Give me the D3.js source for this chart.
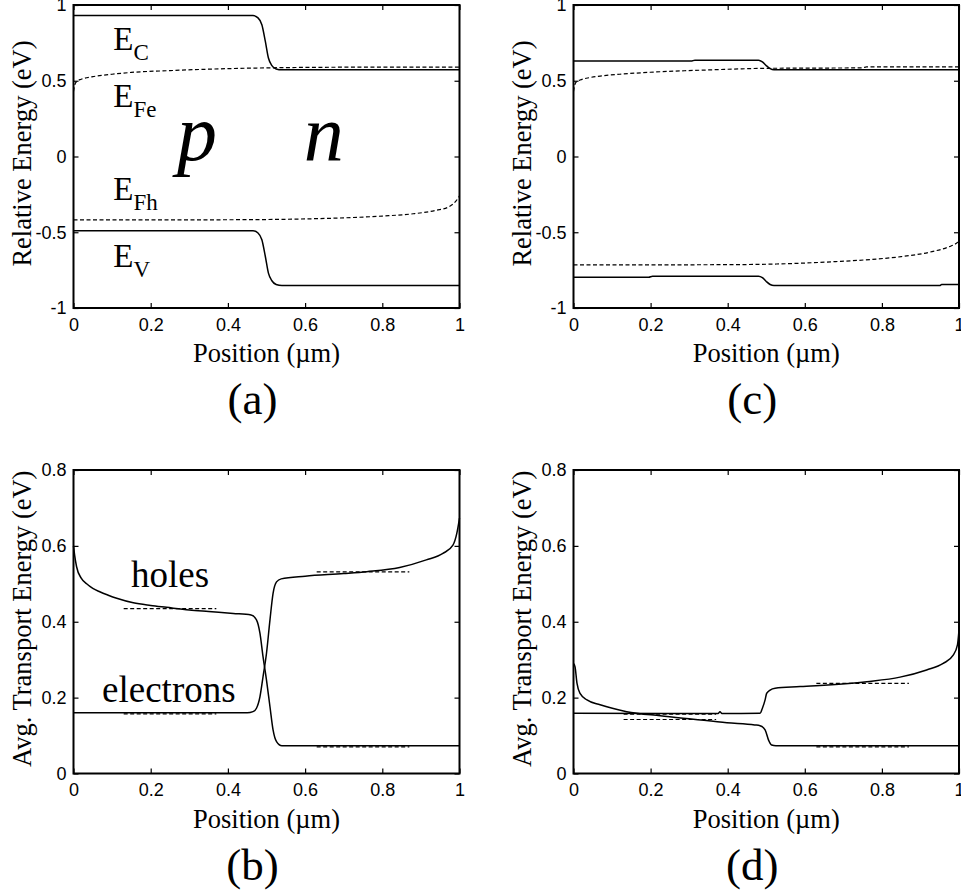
<!DOCTYPE html>
<html>
<head>
<meta charset="utf-8">
<script src="https://cdnjs.cloudflare.com/ajax/libs/d3/7.8.5/d3.min.js"></script>
<style>
    body { margin: 0; background: #fff; }
    .tick text { font-family: "Liberation Sans", Arial, sans-serif; font-size: 18px; fill: #000; }
    .tick line { stroke: #000; stroke-width: 1.2px; }
    .serif { font-family: "Liberation Serif", "Times New Roman", serif; fill: #000; }
</style>
</head>
<body>
<div id="chart"></div>
<script>
// tick values
var posTicks = [0, 0.2, 0.4, 0.6, 0.8, 1];
var energyTicks = [-1, -0.5, 0, 0.5, 1];
var transportTicks = [0, 0.2, 0.4, 0.6, 0.8];

// (a) band diagram, equilibrium-like case
var aEcX = [0, 0.465, 0.478, 0.488, 0.497, 0.505, 0.514, 0.525, 0.54, 1];
var aEcY = [0.93, 0.93, 0.915, 0.87, 0.76, 0.65, 0.60, 0.578, 0.572, 0.572];
var aEvX = [0, 0.465, 0.478, 0.488, 0.497, 0.505, 0.514, 0.525, 0.54, 1];
var aEvY = [-0.49, -0.49, -0.505, -0.55, -0.66, -0.77, -0.82, -0.845, -0.852, -0.852];
var aEfeX = [0, 0.003, 0.008, 0.02, 0.05, 0.1, 0.15, 0.25, 0.4, 0.5, 0.6, 0.8, 1];
var aEfeY = [0.43, 0.47, 0.495, 0.51, 0.527, 0.543, 0.555, 0.567, 0.58, 0.585, 0.588, 0.59, 0.59];
var aEfhX = [0, 0.3, 0.5, 0.6, 0.7, 0.8, 0.88, 0.94, 0.97, 0.985, 0.995, 1];
var aEfhY = [-0.418, -0.418, -0.416, -0.412, -0.405, -0.393, -0.378, -0.355, -0.335, -0.31, -0.28, -0.26];

// (c) band diagram, second case
var cEcX = [0, 0.305, 0.315, 0.48, 0.49, 0.5, 0.51, 0.52, 1];
var cEcY = [0.63, 0.63, 0.636, 0.636, 0.625, 0.6, 0.58, 0.572, 0.572];
var cEvX = [0, 0.195, 0.205, 0.48, 0.49, 0.5, 0.51, 0.52, 0.95, 0.955, 1];
var cEvY = [-0.797, -0.797, -0.79, -0.79, -0.80, -0.825, -0.845, -0.852, -0.852, -0.845, -0.845];
var cEfeX = [0, 0.003, 0.008, 0.017, 0.04, 0.069, 0.12, 0.199, 0.346, 0.5, 0.674, 0.75, 0.76, 1];
var cEfeY = [0.43, 0.47, 0.495, 0.505, 0.52, 0.531, 0.543, 0.556, 0.571, 0.582, 0.584, 0.585, 0.592, 0.592];
var cEfhX = [0, 0.4, 0.55, 0.67, 0.77, 0.85, 0.93, 0.975, 0.995, 1];
var cEfhY = [-0.716, -0.714, -0.708, -0.695, -0.68, -0.661, -0.628, -0.595, -0.57, -0.56];

// (b) average transport energy, first case
var bHoleX = [0, 0.003, 0.008, 0.02, 0.034, 0.05, 0.068, 0.09, 0.112, 0.155, 0.2, 0.241, 0.3, 0.35, 0.414, 0.46, 0.474, 0.483, 0.491, 0.5, 0.509, 0.517, 0.526, 0.54, 1];
var bHoleY = [0.6, 0.575, 0.545, 0.515, 0.5, 0.488, 0.479, 0.47, 0.462, 0.45, 0.443, 0.438, 0.431, 0.427, 0.422, 0.418, 0.405, 0.37, 0.308, 0.246, 0.176, 0.115, 0.084, 0.073, 0.073];
var bElecX = [0, 0.45, 0.465, 0.474, 0.483, 0.491, 0.5, 0.509, 0.517, 0.526, 0.538, 0.6, 0.7, 0.76, 0.845, 0.914, 0.957, 0.983, 0.993, 1];
var bElecY = [0.16, 0.16, 0.163, 0.172, 0.202, 0.255, 0.317, 0.405, 0.475, 0.505, 0.513, 0.52, 0.527, 0.532, 0.543, 0.563, 0.58, 0.602, 0.633, 0.673];
var bRefX0 = [0.13, 0.13, 0.63, 0.63];
var bRefX1 = [0.37, 0.37, 0.87, 0.87];
var bRefY = [0.437, 0.16, 0.534, 0.073];

// (d) average transport energy, second case
var dHoleX = [0, 0.004, 0.009, 0.017, 0.035, 0.069, 0.138, 0.225, 0.311, 0.398, 0.47, 0.484, 0.497, 0.506, 0.514, 0.525, 1];
var dHoleY = [0.29, 0.281, 0.238, 0.211, 0.194, 0.181, 0.163, 0.152, 0.143, 0.134, 0.128, 0.126, 0.115, 0.088, 0.075, 0.073, 0.073];
var dElecX = [0, 0.375, 0.38, 0.385, 0.484, 0.49, 0.497, 0.501, 0.51, 0.523, 0.588, 0.761, 0.847, 0.916, 0.959, 0.985, 0.996, 1];
var dElecY = [0.159, 0.158, 0.163, 0.158, 0.159, 0.172, 0.194, 0.211, 0.22, 0.225, 0.229, 0.242, 0.254, 0.273, 0.29, 0.312, 0.339, 0.378];
var dRefX0 = [0.13, 0.13, 0.63, 0.63];
var dRefX1 = [0.37, 0.37, 0.87, 0.87];
var dRefY = [0.145, 0.159, 0.24, 0.073];

function toPoints(xs, ys) {
    return xs.map(function(d, i) { return { x: d, y: ys[i] }; });
}

var svg = d3.select("#chart")
    .append("svg")
    .attr("width", 961)
    .attr("height", 894);

function drawPanel(box, yDomain, yTicks, yTitle, letter, solids, dashes, segs) {
    var x = d3.scaleLinear().domain([0, 1]).range([box.left, box.right]);
    var y = d3.scaleLinear().domain(yDomain).range([box.bottom, box.top]);
    var fmt = function(d) { return String(d); };

    var g = svg.append("g");

    g.append("g")
        .attr("transform", "translate(0," + box.bottom + ")")
        .call(d3.axisBottom(x).tickValues(posTicks).tickFormat(fmt).tickSizeInner(-5).tickSizeOuter(0).tickPadding(10));
    g.append("g")
        .attr("transform", "translate(0," + box.top + ")")
        .call(d3.axisTop(x).tickValues(posTicks).tickFormat("").tickSizeInner(-5).tickSizeOuter(0));
    g.append("g")
        .attr("transform", "translate(" + box.left + ",0)")
        .call(d3.axisLeft(y).tickValues(yTicks).tickFormat(fmt).tickSizeInner(-5).tickSizeOuter(0).tickPadding(7));
    g.append("g")
        .attr("transform", "translate(" + box.right + ",0)")
        .call(d3.axisRight(y).tickValues(yTicks).tickFormat("").tickSizeInner(-5).tickSizeOuter(0));
    g.selectAll(".domain").remove();

    var line = d3.line()
        .x(function(d) { return x(d.x); })
        .y(function(d) { return y(d.y); })
        .curve(d3.curveMonotoneX);

    g.selectAll("path.dashed")
        .data(dashes)
        .enter()
        .append("path")
        .attr("class", "dashed")
        .attr("d", line)
        .attr("fill", "none")
        .attr("stroke", "#000")
        .attr("stroke-width", 1.2)
        .attr("stroke-dasharray", "4,2.5");

    if (segs) {
        g.selectAll("line.ref")
            .data(segs.y)
            .enter()
            .append("line")
            .attr("class", "ref")
            .attr("x1", function(d, i) { return x(segs.x0[i]); })
            .attr("x2", function(d, i) { return x(segs.x1[i]); })
            .attr("y1", function(d) { return y(d) + 1; })
            .attr("y2", function(d) { return y(d) + 1; })
            .attr("stroke", "#000")
            .attr("stroke-width", 1.2)
            .attr("stroke-dasharray", "4,2.5");
    }

    g.selectAll("path.solid")
        .data(solids)
        .enter()
        .append("path")
        .attr("class", "solid")
        .attr("d", line)
        .attr("fill", "none")
        .attr("stroke", "#000")
        .attr("stroke-width", 1.5);

    g.append("rect")
        .attr("x", box.left)
        .attr("y", box.top)
        .attr("width", box.right - box.left)
        .attr("height", box.bottom - box.top)
        .attr("fill", "none")
        .attr("stroke", "#000")
        .attr("stroke-width", 2);

    var cx = (box.left + box.right) / 2;

    g.append("text")
        .attr("class", "serif")
        .attr("x", cx)
        .attr("y", box.bottom + 54)
        .attr("text-anchor", "middle")
        .style("font-size", "26.5px")
        .text("Position (\u00b5m)");

    g.append("text")
        .attr("class", "serif")
        .attr("transform", "translate(" + (box.left - 42.5) + "," + ((box.top + box.bottom) / 2 - 3) + ") rotate(-90)")
        .attr("text-anchor", "middle")
        .style("font-size", "26.5px")
        .text(yTitle);

    g.append("text")
        .attr("class", "serif")
        .attr("x", cx - 14)
        .attr("y", box.bottom + 106)
        .attr("text-anchor", "middle")
        .style("font-size", "45px")
        .text("(" + letter + ")");

    return { g: g, x: x, y: y };
}

var pa = drawPanel({ left: 73.5, right: 459.5, top: 5, bottom: 308 }, [-1, 1], energyTicks,
    "Relative Energy (eV)", "a",
    [toPoints(aEcX, aEcY), toPoints(aEvX, aEvY)],
    [toPoints(aEfeX, aEfeY), toPoints(aEfhX, aEfhY)]);

drawPanel({ left: 573.5, right: 959, top: 5, bottom: 308 }, [-1, 1], energyTicks,
    "Relative Energy (eV)", "c",
    [toPoints(cEcX, cEcY), toPoints(cEvX, cEvY)],
    [toPoints(cEfeX, cEfeY), toPoints(cEfhX, cEfhY)]);

var pb = drawPanel({ left: 73.5, right: 459.5, top: 470, bottom: 773.5 }, [0, 0.8], transportTicks,
    "Avg. Transport Energy (eV)", "b",
    [toPoints(bHoleX, bHoleY), toPoints(bElecX, bElecY)],
    [], { x0: bRefX0, x1: bRefX1, y: bRefY });

drawPanel({ left: 573.5, right: 959, top: 470, bottom: 773.5 }, [0, 0.8], transportTicks,
    "Avg. Transport Energy (eV)", "d",
    [toPoints(dHoleX, dHoleY), toPoints(dElecX, dElecY)],
    [], { x0: dRefX0, x1: dRefX1, y: dRefY });

// band labels in (a)
var bandNames = ["C", "Fe", "Fh", "V"];
var bandLabelY = [0.703, 0.329, -0.287, -0.727];

bandNames.forEach(function(name, i) {
    var t = pa.g.append("text")
        .attr("class", "serif")
        .attr("x", pa.x(0.103))
        .attr("y", pa.y(bandLabelY[i]))
        .style("font-size", "33px");
    t.append("tspan").text("E");
    t.append("tspan")
        .attr("dy", 10)
        .style("font-size", "23px")
        .text(name);
});

pa.g.append("text")
    .attr("class", "serif")
    .attr("x", pa.x(0.32))
    .attr("y", pa.y(-0.023))
    .attr("text-anchor", "middle")
    .style("font-size", "80px")
    .style("font-style", "italic")
    .text("p");

pa.g.append("text")
    .attr("class", "serif")
    .attr("x", pa.x(0.648))
    .attr("y", pa.y(-0.023))
    .attr("text-anchor", "middle")
    .style("font-size", "80px")
    .style("font-style", "italic")
    .text("n");

// carrier labels in (b)
pb.g.append("text")
    .attr("class", "serif")
    .attr("x", pb.x(0.149))
    .attr("y", pb.y(0.4916))
    .style("font-size", "37px")
    .text("holes");

pb.g.append("text")
    .attr("class", "serif")
    .attr("x", pb.x(0.074))
    .attr("y", pb.y(0.189))
    .style("font-size", "37px")
    .text("electrons");
</script>
</body>
</html>
